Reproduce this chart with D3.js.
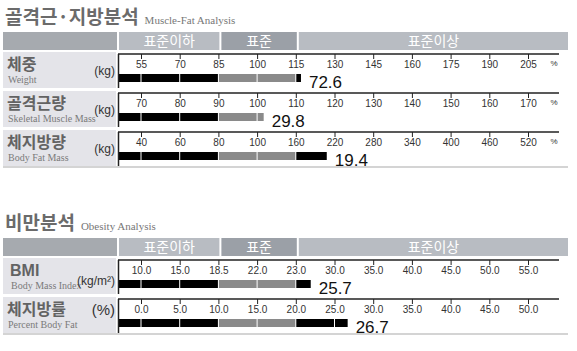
<!DOCTYPE html>
<html>
<head>
<meta charset="utf-8">
<script src="https://cdn.jsdelivr.net/npm/d3@7"></script>
<style>
  body { margin: 0; background: #fff; }
  svg { display: block; }
  .ko { font-family: "Noto Sans CJK KR", "Noto Sans", sans-serif; }
  .en { font-family: "Liberation Serif", "DejaVu Serif", serif; }
  .ar { font-family: "Liberation Sans", Arial, sans-serif; }
</style>
</head>
<body>
<svg id="chart" width="577" height="351"></svg>
<script>
// ---- data ----
var bandNames = ['표준이하', '표준', '표준이상'];

var weightTicks = [55, 70, 85, 100, 115, 130, 145, 160, 175, 190, 205];
var muscleTicks = [70, 80, 90, 100, 110, 120, 130, 140, 150, 160, 170];
var fatTicks = [40, 60, 80, 100, 160, 220, 280, 340, 400, 460, 520];
var bmiTicks = [10, 15, 18.5, 22, 23, 30, 35, 40, 45, 50, 55];
var pbfTicks = [0, 5, 10, 15, 20, 25, 30, 35, 40, 45, 50];

var mfKo = ['체중', '골격근량', '체지방량'];
var mfEn = ['Weight', 'Skeletal Muscle Mass', 'Body Fat Mass'];
var mfUnit = ['(kg)', '(kg)', '(kg)'];
var mfTicks = [weightTicks, muscleTicks, fatTicks];
var mfBar = [117, 101.7, 208];          // bar end, in axis units (% of standard)
var mfValue = ['72.6', '29.8', '19.4'];

var obKo = ['BMI', '체지방률'];
var obEn = ['Body Mass Index', 'Percent Body Fat'];
var obUnit = ['(kg/m²)', '(%)'];
var obTicks = [bmiTicks, pbfTicks];
var obBar = [25.7, 26.7];
var obValue = ['25.7', '26.7'];

// ---- layout ----
var svg = d3.select('#chart');
var chartLeft = 118, chartRight = 559, firstTick = 141, tickStep = 38.7;
var rowGap = 39;

// unit label tweaks (size / baseline offset from row top)
var unitStyle = {
    '(kg)': { size: 12, dy: 23 },
    '(kg/m²)': { size: 12, dy: 27 },
    '(%)': { size: 15, dy: 18 }
};

function rowScale(ticks) {
    return d3.scaleLinear()
        .domain(ticks)
        .range(ticks.map(function(d, i) { return firstTick + i * tickStep; }));
}

function drawSection(top, titleKo, titleEn, ko, en, units, tickSets, bars, values, fixed, showPct) {
    // title
    var title = svg.append('text')
        .attr('x', 5).attr('y', top - 8);
    title.append('tspan').attr('class', 'ko')
        .attr('font-size', 19).attr('font-weight', 'bold').attr('fill', '#6b6b6b')
        .text(titleKo);
    title.append('tspan').attr('class', 'en')
        .attr('dx', 6).attr('font-size', 11).attr('fill', '#777')
        .text(titleEn);

    // header band
    var sx = rowScale(tickSets[0]);
    var t2 = sx(tickSets[0][2]), t4 = sx(tickSets[0][4]);
    var cells = [
        { x0: 3, x1: 117, fill: '#a6aaaf', label: '' },
        { x0: 119, x1: t2 + 1, fill: '#b8bcc2', label: bandNames[0] },
        { x0: t2 + 3, x1: t4 + 1, fill: '#9ba0a7', label: bandNames[1] },
        { x0: t4 + 3, x1: 568, fill: '#b8bcc2', label: bandNames[2] }
    ];
    var head = svg.append('g').attr('transform', 'translate(0,' + top + ')');
    head.selectAll('rect').data(cells).enter().append('rect')
        .attr('x', function(d) { return d.x0; })
        .attr('width', function(d) { return d.x1 - d.x0; })
        .attr('y', 0).attr('height', 18)
        .attr('fill', function(d) { return d.fill; });
    head.selectAll('text').data(cells).enter().append('text')
        .attr('class', 'ko')
        .attr('x', function(d) { return (d.x0 + d.x1) / 2; })
        .attr('y', 14)
        .attr('text-anchor', 'middle')
        .attr('font-size', 14).attr('fill', '#fff')
        .text(function(d) { return d.label; });

    // rows
    ko.forEach(function(name, i) {
        var rowTop = top + 20 + i * rowGap;
        var lineY = rowTop + 2;
        var x = rowScale(tickSets[i]);
        var g = svg.append('g');

        // label cell
        g.append('rect')
            .attr('x', 3).attr('y', rowTop)
            .attr('width', 113).attr('height', 36)
            .attr('fill', '#e4e4e9');
        var isLatin = /^[A-Z]+$/.test(name);
        g.append('text')
            .attr('class', isLatin ? 'ar' : 'ko')
            .attr('x', isLatin ? 10 : 7).attr('y', rowTop + 18)
            .attr('font-size', 16).attr('font-weight', 'bold')
            .attr('fill', '#636363')
            .text(name);
        g.append('text')
            .attr('class', 'en')
            .attr('x', isLatin ? 11 : 8).attr('y', rowTop + 31)
            .attr('font-size', 10).attr('fill', '#7a7a7a')
            .text(en[i]);
        var us = unitStyle[units[i]];
        g.append('text')
            .attr('class', 'ar')
            .attr('x', 115).attr('y', rowTop + us.dy)
            .attr('text-anchor', 'end')
            .attr('font-size', us.size).attr('fill', '#333')
            .text(units[i]);

        // bar segments split at each tick
        var bounds = [chartLeft + 1].concat(tickSets[i].map(x));
        var end = x(bars[i]);
        var segs = [];
        for (var k = 0; k < bounds.length; k++) {
            var a = bounds[k] + (k > 0 ? 0.5 : 0);
            var b = (k + 1 < bounds.length ? Math.min(bounds[k + 1] - 0.5, end) : end);
            if (b > a) segs.push({ x0: a, x1: b, std: k === 3 || k === 4 });
        }
        g.selectAll('rect.seg').data(segs).enter().append('rect')
            .attr('class', 'seg')
            .attr('x', function(d) { return d.x0; })
            .attr('width', function(d) { return d.x1 - d.x0; })
            .attr('y', rowTop + 22).attr('height', 8)
            .attr('fill', function(d) { return d.std ? '#8a8a8a' : '#000'; });

        g.append('text')
            .attr('class', 'ar')
            .attr('x', end + 8).attr('y', rowTop + 36)
            .attr('font-size', 17).attr('fill', '#111')
            .text(values[i]);

        // axis with ticks pointing down, labels underneath
        var axis = d3.axisBottom(x)
            .tickValues(tickSets[i])
            .tickSize(5).tickPadding(2)
            .tickFormat(function(d) { return fixed ? d.toFixed(1) : d; });
        var ax = g.append('g')
            .attr('transform', 'translate(0,' + lineY + ')')
            .call(axis);
        ax.select('.domain').remove();
        ax.selectAll('line').attr('stroke', '#222');
        ax.selectAll('text')
            .attr('font-family', '"Liberation Sans", Arial, sans-serif')
            .attr('font-size', 10).attr('fill', '#333');

        // frame lines
        g.append('line')
            .attr('x1', chartLeft).attr('x2', chartRight)
            .attr('y1', lineY).attr('y2', lineY)
            .attr('stroke', '#222').attr('stroke-width', 1.6);
        g.append('line')
            .attr('x1', chartLeft + 0.5).attr('x2', chartLeft + 0.5)
            .attr('y1', lineY).attr('y2', rowTop + 36)
            .attr('stroke', '#222').attr('stroke-width', 1.5);

        if (showPct) {
            g.append('text')
                .attr('class', 'ar')
                .attr('x', 554).attr('y', lineY + 12)
                .attr('text-anchor', 'middle')
                .attr('font-size', 8).attr('fill', '#333')
                .text('%');
        }
    });

    // bottom rule
    var bottom = top + 20 + ko.length * rowGap - 2;
    svg.append('line')
        .attr('x1', 3).attr('x2', 568)
        .attr('y1', bottom).attr('y2', bottom)
        .attr('stroke', '#d4d4d4').attr('stroke-width', 2);
}

drawSection(32, '골격근·지방분석', 'Muscle-Fat Analysis',
    mfKo, mfEn, mfUnit, mfTicks, mfBar, mfValue, false, true);
drawSection(238, '비만분석', 'Obesity Analysis',
    obKo, obEn, obUnit, obTicks, obBar, obValue, true, false);
</script>
</body>
</html>
